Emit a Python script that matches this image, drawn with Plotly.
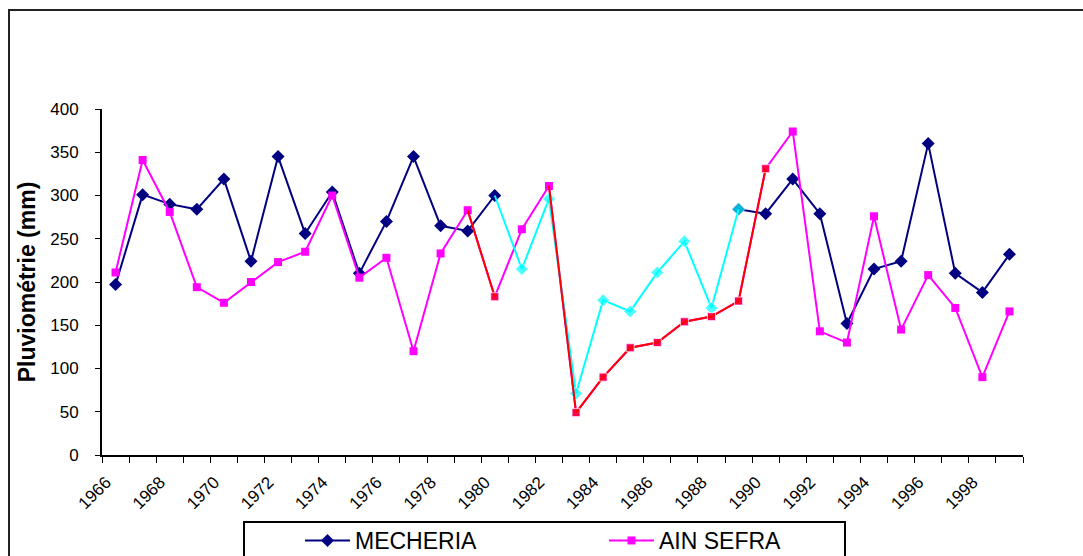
import plotly.graph_objects as go

years = list(range(1966, 2000))
mecheria = [197, 301, 290, 284, 319, 224, 345, 256, 304, 210, 270, 345, 265, 259, 300,
            215, 296, 71, 179, 166, 211, 247, 170, 284, 279, 319, 279, 152, 215, 224,
            360, 210, 188, 232]
ain_sefra = [211, 341, 281, 194, 176, 200, 223, 235, 300, 205, 228, 120, 233, 283, 183,
             261, 311, 49, 90, 124, 130, 154, 160, 178, 331, 374, 143, 130, 276, 145,
             208, 170, 90, 166]
tick_years = list(range(1966, 2000, 2))
tick_labels = [str(y) for y in tick_years]

# highlighted (dry-period) segments
cyan_years = set(range(1980, 1990))          # MECHERIA segment 1980-1989
red_years = {1979, 1980} | set(range(1982, 1991))  # AIN SEFRA segments

navy = "#000080"
mag = "#FF00FF"
cyan = "#00FFFF"
red = "#FF0000"

mech_main = [v if not (1981 <= y <= 1988) else None for y, v in zip(years, mecheria)]
mech_cyan = [v if y in cyan_years else None for y, v in zip(years, mecheria)]
cyan_sizes = [0 if y == 1980 else 10 for y in years]
ain_red = [v if y in red_years else None for y, v in zip(years, ain_sefra)]
red_sizes = [0 if y in (1979, 1982) else 8 for y in years]

fig = go.Figure()
fig.add_trace(go.Scatter(x=years, y=mech_main, mode="lines+markers", name="MECHERIA",
                         line=dict(color=navy, width=2),
                         marker=dict(symbol="diamond", size=10, color=navy),
                         connectgaps=False))
fig.add_trace(go.Scatter(x=years, y=ain_sefra, mode="lines+markers", name="AIN SEFRA",
                         line=dict(color=mag, width=2),
                         marker=dict(symbol="square", size=8, color=mag)))
fig.add_trace(go.Scatter(x=years, y=mech_cyan, mode="lines+markers", showlegend=False,
                         line=dict(color=cyan, width=2),
                         marker=dict(symbol="diamond", size=cyan_sizes, color=cyan),
                         connectgaps=False))
fig.add_trace(go.Scatter(x=years, y=ain_red, mode="lines+markers", showlegend=False,
                         line=dict(color=red, width=2),
                         marker=dict(symbol="square", size=red_sizes, color=red),
                         connectgaps=False))
# invisible trace to carry xaxis2 labels
fig.add_trace(go.Scatter(x=years, y=[None] * len(years), xaxis="x2", showlegend=False,
                         hoverinfo="skip"))

W, H = 1083, 556
L, R, T, B = 102, 60, 109, 101
pw, ph = W - L - R, H - T - B

def px(xp):
    return (xp - L) / pw

def py(yp):
    return (H - B - yp) / ph

font = "Liberation Sans, Arial, sans-serif"
fig.update_layout(
    width=W, height=H,
    margin=dict(l=L, r=R, t=T, b=B, autoexpand=False),
    paper_bgcolor="white", plot_bgcolor="white",
    font=dict(family=font, color="black", size=17),
    xaxis=dict(range=[1965.5, 1999.5], tickvals=[1965.5 + k for k in range(35)],
               ticktext=[""] * 35, ticks="outside", ticklen=6, tickcolor="black",
               showline=True, linecolor="black", linewidth=2, showgrid=False,
               zeroline=False, automargin=False),
    xaxis2=dict(range=[1965.5, 1999.5], overlaying="x", anchor="y", side="bottom",
                tickvals=[y - 0.35 for y in tick_years], ticktext=tick_labels, tickangle=-45,
                ticks="", showline=False, showgrid=False, zeroline=False,
                automargin=False, ticklabelstandoff=13,
                tickfont=dict(size=17, family=font)),
    yaxis=dict(range=[0, 400], dtick=50, ticks="outside", ticklen=5, tickcolor="black",
               showline=True, linecolor="black", linewidth=2, showgrid=False,
               zeroline=False, ticklabelstandoff=13, automargin=False,
               title=dict(text="<b>Pluviométrie (mm)</b>", font=dict(size=23, family=font),
                          standoff=8)),
    showlegend=True,
    legend=dict(orientation="h", x=px(300), y=py(519), xanchor="left", yanchor="top",
                font=dict(size=23, family=font), bgcolor="rgba(0,0,0,0)",
                entrywidth=244, itemwidth=45),
    shapes=[
        dict(type="rect", xref="paper", yref="paper", x0=px(9), x1=px(1100),
             y0=py(600), y1=py(10), line=dict(color="#222222", width=2)),
        dict(type="rect", xref="paper", yref="paper", x0=px(244), x1=px(845),
             y0=py(600), y1=py(522), line=dict(color="black", width=2)),
    ],
)

fig.write_html("out.html")
